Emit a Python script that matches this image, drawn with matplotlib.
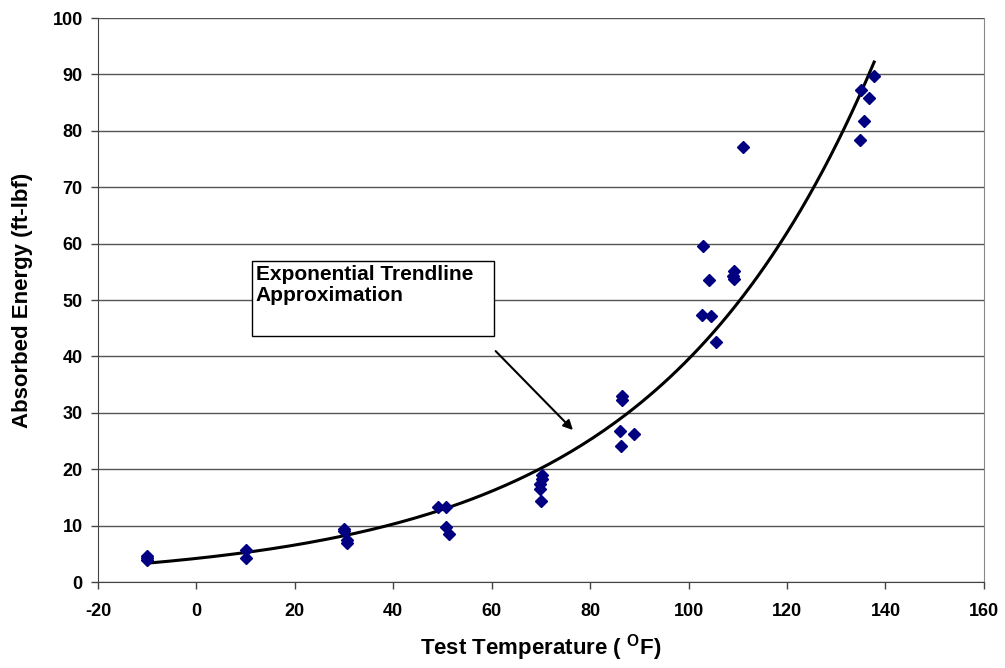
import matplotlib.pyplot as plt
import matplotlib.patches as mpatches
import numpy as np

# test temperature (F) and absorbed energy (ft-lbf)
temperature = [
    -10, -10, -10,
    10, 10,
    30, 30, 30.5, 30.5,
    49, 50.8, 50.8, 51.3,
    70.2, 70.2, 69.8, 69.8, 70,
    86.5, 86.5, 86, 89, 86.2,
    102.9, 104.1, 109.3, 109, 109.2, 102.8, 104.6, 105.6, 111,
    137.7, 135, 136.6, 135.7, 134.8,
]
energy = [
    4.6, 4.2, 3.9,
    5.7, 4.3,
    9.4, 9.0, 7.4, 6.9,
    13.3, 13.3, 9.8, 8.5,
    19.0, 18.2, 17.3, 16.5, 14.3,
    33.0, 32.3, 26.8, 26.3, 24.1,
    59.5, 53.5, 55.1, 54.2, 53.7, 47.3, 47.1, 42.6, 77.1,
    89.7, 87.2, 85.9, 81.8, 78.4,
]

x_ticks = list(range(-20, 161, 20))
y_ticks = list(range(0, 101, 10))

plt.rcParams["font.family"] = ["Liberation Sans", "DejaVu Sans"]
plt.rcParams["font.weight"] = "bold"
plt.rcParams["axes.unicode_minus"] = False

fig = plt.figure(figsize=(10.05, 6.68), dpi=100)
ax = fig.add_axes([0.0975, 0.1287, 0.8815, 0.8443])

# exponential trendline, least squares on ln(y) like the spreadsheet does
x_arr = np.array(temperature)
y_arr = np.array(energy)
b, ln_a = np.polyfit(x_arr, np.log(y_arr), 1)
x_fit = np.linspace(x_arr.min(), x_arr.max(), 200)
ax.plot(x_fit, np.exp(ln_a) * np.exp(b * x_fit), color="black", linewidth=2.2, zorder=3)

ax.plot(temperature, energy, linestyle="none", marker="D", markersize=6.5,
        color="#000080", markeredgecolor="#000080", zorder=4)

ax.set_xlim(-20, 160)
ax.set_ylim(0, 100)
ax.set_xticks(x_ticks)
ax.set_xticklabels([str(v) for v in x_ticks], fontweight="bold", fontsize=13)
ax.set_yticks(y_ticks)
ax.set_yticklabels([str(v) for v in y_ticks], fontweight="bold", fontsize=13)
ax.yaxis.grid(True, color="#555555", linewidth=1.0)
ax.set_axisbelow(True)

ax.spines["top"].set_visible(False)
ax.spines["right"].set_color("#888888")
for side in ["left", "bottom"]:
    ax.spines[side].set_color("#444444")

ax.tick_params(direction="out", length=5, width=1, color="#444444")
ax.tick_params(axis="x", pad=10)
ax.tick_params(axis="y", pad=6)

ax.set_xlabel("Test Temperature ( $^{\\mathregular{O}}$F)", fontsize=16,
              fontweight="bold", labelpad=9)
ax.set_ylabel("Absorbed Energy (ft-lbf)", fontsize=16, fontweight="bold", labelpad=14)

# annotation box and arrow
box = mpatches.Rectangle((0.174, 0.436), 0.273, 0.133, transform=ax.transAxes,
                         facecolor="white", edgecolor="black", linewidth=1.0, zorder=5)
ax.add_patch(box)
ax.text(0.178, 0.562, "Exponential Trendline\nApproximation", transform=ax.transAxes,
        ha="left", va="top", fontsize=15, fontweight="bold", linespacing=1.1, zorder=6)
ax.annotate("", xy=(76.9, 26.6), xytext=(60.4, 41.3),
            arrowprops=dict(arrowstyle="-|>", color="black", linewidth=1.5,
                            mutation_scale=14), zorder=6)

fig.savefig("out.png", dpi=100)
